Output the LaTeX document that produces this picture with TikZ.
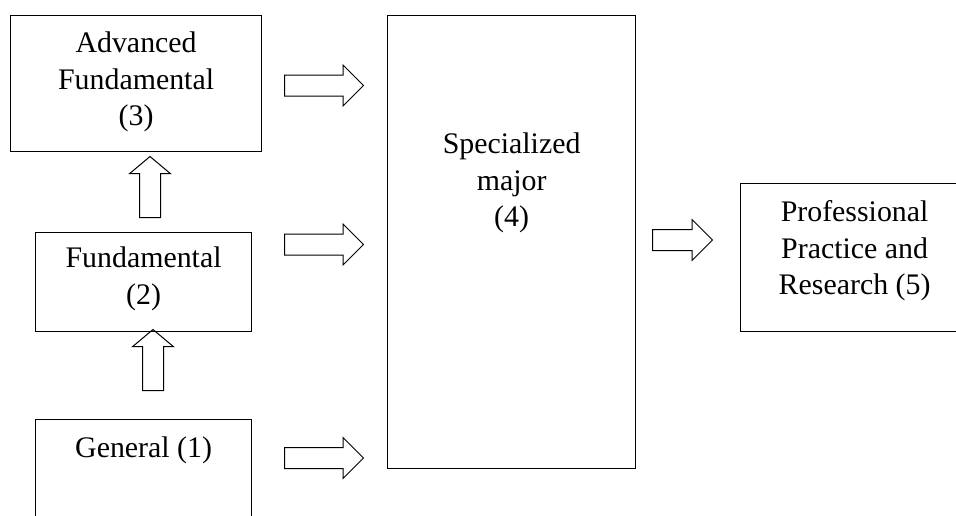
\documentclass[tikz,border=0pt]{standalone}
\usepackage{fontspec}
\setmainfont{Liberation Serif}
\usetikzlibrary{shapes.arrows}

\begin{document}
\begin{tikzpicture}[x=0.75pt, y=-0.75pt,
        box/.style={draw, line width=0.9pt, anchor=north west, inner sep=0pt,
            align=flush center, font=\fontsize{22.4}{27.4}\selectfont},
        blockarrow/.style={draw, line width=0.75pt, single arrow, anchor=tail,
            inner sep=7.5pt, minimum width=0pt, single arrow head extend=7.5pt},
        uparrow/.style={blockarrow, shape border rotate=90, single arrow tip angle=100}]
        \useasboundingbox (0,0) rectangle (956,515);
        \clip (0,0) rectangle (956,515);

        % Boxes: text height puts the first line, text depth fills the rest
        \node[box, text width=188.25pt, text height=27.75pt, text depth=74.25pt] (adv) at (10,15) {Advanced\\Fundamental\\(3)};
        \node[box, text width=162pt, text height=26.25pt, text depth=48pt] (fund) at (35,232) {Fundamental\\(2)};
        \node[box, text width=162pt, text height=28.5pt, text depth=77.25pt] (gen) at (35,419) {General (1)};
        \node[box, text width=186pt, text height=103.5pt, text depth=236.25pt] (spec) at (387,15) {Specialized\\major\\(4)};
        \node[box, text width=171pt, text height=28.5pt, text depth=82.5pt] (prof) at (740,183) {Professional\\Practice and\\Research (5)};

        % Block arrows into the specialized major
        \node[blockarrow, minimum height=59.25pt] (adv-spec) at (284,85.5) {};
        \node[blockarrow, minimum height=59.25pt] (fund-spec) at (284,244.5) {};
        \node[blockarrow, minimum height=59.25pt] (gen-spec) at (284,458) {};
        \node[blockarrow, minimum height=45pt] (spec-prof) at (652,240) {};

        % Upward arrows
        \node[uparrow, minimum height=45.75pt] (fund-adv) at (150,218) {};
        \node[uparrow, minimum height=45.75pt] (gen-fund) at (153,391) {};
    \end{tikzpicture}
\end{document}
